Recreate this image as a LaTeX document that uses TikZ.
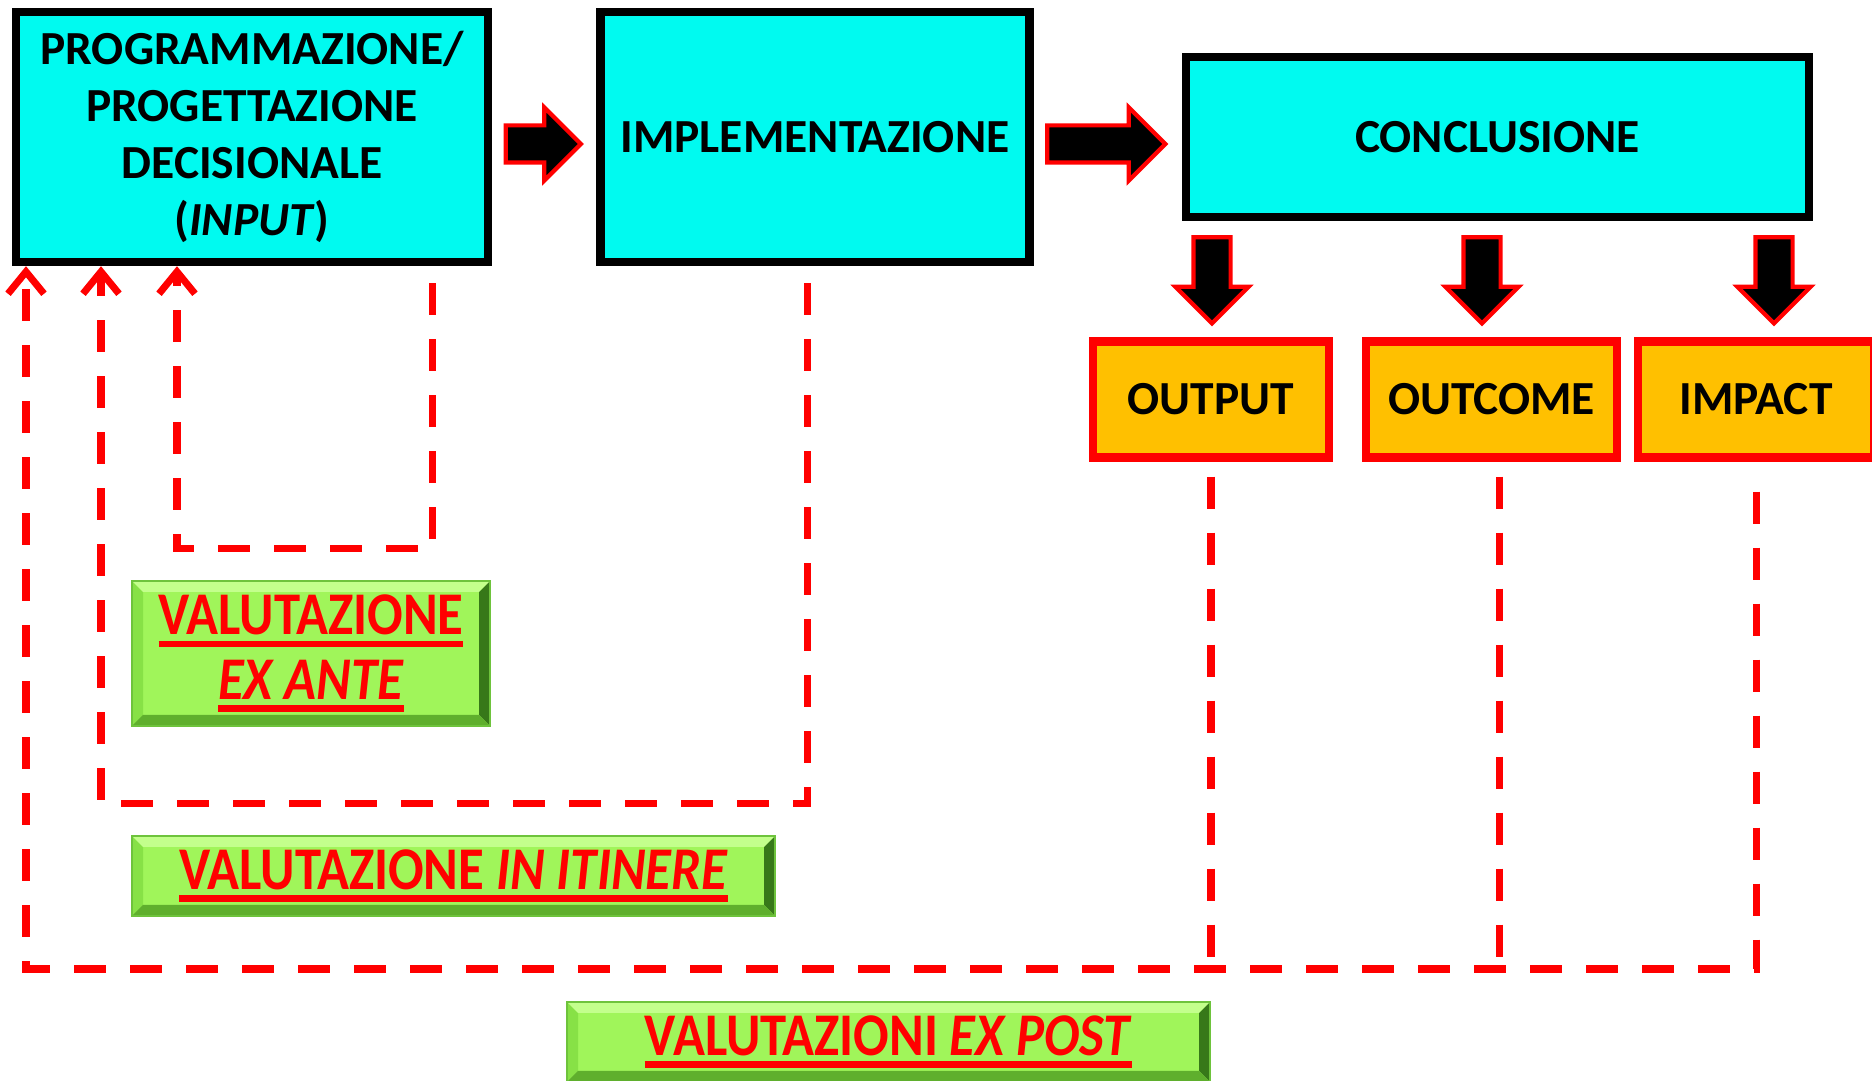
\documentclass[tikz,border=0pt]{standalone}
\usepackage{fontspec}
\setmainfont{Carlito}
\usepackage{graphicx}
\usetikzlibrary{
        arrows.meta,
        positioning,
        shapes.arrows
    }
\definecolor{phasecyan}{RGB}{0,250,240}
\definecolor{resultorange}{RGB}{255,192,0}
\definecolor{bevelmid}{RGB}{160,245,90}
\definecolor{bevellight}{RGB}{195,255,140}
\definecolor{beveldark}{RGB}{95,175,45}
\definecolor{bevelshadow}{RGB}{55,120,25}
\definecolor{bevelside}{RGB}{135,225,70}
\definecolor{beveledge}{RGB}{110,195,60}
\newcommand{\thickul}[1]{\setbox0=\hbox{#1}\rlap{\rule[-3pt]{\wd0}{1.6pt}}\box0}
\newcommand{\evaltext}[1]{\scalebox{1}[1.15]{\thickul{#1}}}
\tikzset{
  phase/.style={draw=black,line width=2.4pt,fill=phasecyan,align=center,
    minimum height=2.50cm,font=\fontsize{13.5}{16.2}\selectfont\bfseries},
  result/.style={draw=red,line width=2.3pt,fill=resultorange,minimum width=2.36cm,
    minimum height=1.16cm,font=\fontsize{13.5}{16.2}\selectfont\bfseries},
  flowarrow/.style={single arrow,draw=red,fill=black,line width=1.2pt,inner sep=0.165cm,
    single arrow head extend=0.18cm},
  evalline/.style={draw=red,line width=2pt,dash pattern=on 0.32cm off 0.24cm,
    -{Straight Barb[length=0.22cm,width=0.36cm]}},
  judgebox/.style={draw=beveledge,line width=0.6pt,fill=bevelmid,inner sep=0pt,
    text=red,align=center,font=\fontsize{15}{18.4}\selectfont\bfseries,
    path picture={
      \fill[bevelside] (path picture bounding box.north west) -- ([shift={(0.11,-0.11)}]path picture bounding box.north west)
        -- ([shift={(0.11,0.11)}]path picture bounding box.south west) -- (path picture bounding box.south west) -- cycle;
      \fill[bevelshadow] (path picture bounding box.north east) -- ([shift={(-0.11,-0.11)}]path picture bounding box.north east)
        -- ([shift={(-0.11,0.11)}]path picture bounding box.south east) -- (path picture bounding box.south east) -- cycle;
      \fill[bevellight] (path picture bounding box.north west) -- (path picture bounding box.north east)
        -- ([shift={(-0.11,-0.11)}]path picture bounding box.north east) -- ([shift={(0.11,-0.11)}]path picture bounding box.north west) -- cycle;
      \fill[beveldark] (path picture bounding box.south west) -- (path picture bounding box.south east)
        -- ([shift={(-0.11,0.11)}]path picture bounding box.south east) -- ([shift={(0.11,0.11)}]path picture bounding box.south west) -- cycle;
    }}
}
\begin{document}
\begin{tikzpicture}
  \useasboundingbox (0,0) rectangle (18.72,-10.81);
  % phases
  \node[phase,minimum width=4.72cm] (prog) at (2.52,-1.37) {PROGRAMMAZIONE/\\PROGETTAZIONE\\DECISIONALE\\(\textit{INPUT})};
  \node[phase,minimum width=4.29cm] (impl) [right=1.04cm of prog] {IMPLEMENTAZIONE};
  \node[phase,minimum width=6.23cm,minimum height=1.60cm] (conc) [right=1.48cm of impl] {CONCLUSIONE};
  \node[result] (output) at (12.11,-3.995) {OUTPUT};
  \node[result,minimum width=2.51cm] (outcome) [right=0.29cm of output] {OUTCOME};
  \node[result] (impact) [right=0.13cm of outcome] {IMPACT};
  % block arrows
  \node[flowarrow,minimum height=0.75cm] (toimpl) at (5.34,-1.44) {};
  \node[flowarrow,minimum height=1.18cm] (toconc) at (10.97,-1.44) {};
  \node[flowarrow,minimum height=0.86cm,rotate=-90] (tooutput) at (12.12,-2.71) {};
  \node[flowarrow,minimum height=0.86cm,rotate=-90] (tooutcome) at (14.82,-2.71) {};
  \node[flowarrow,minimum height=0.86cm,rotate=-90] (toimpact) at (17.74,-2.71) {};
  % evaluations
  \node[judgebox,minimum width=3.58cm,minimum height=1.45cm] (exante) at (3.11,-6.535)
    {\evaltext{VALUTAZIONE}\\\evaltext{\textit{EX ANTE}}};
  \node[judgebox,minimum width=6.43cm,minimum height=0.80cm] (itinere) at (4.535,-8.76)
    {\evaltext{VALUTAZIONE \textit{IN ITINERE}}};
  \node[judgebox,minimum width=6.43cm,minimum height=0.80cm] (expost) at (8.885,-10.42)
    {\evaltext{VALUTAZIONI \textit{EX POST}}};
  % feedback lines
  \coordinate (ante) at (1.77,-5.49);
  \coordinate (itin) at (1.01,-8.04);
  \coordinate (post) at (0.26,-9.69);
  \draw[evalline] ([shift={(-0.60,-0.17)}]prog.south east) |- (ante) -- (ante |- prog.south);
  \draw[evalline] ([shift={(-0.07,-0.17)}]impl.south) |- (itin) -- (itin |- prog.south);
  \draw[evalline] ([yshift=-0.30cm]impact.south) |- (post) -- (post |- prog.south);
  \draw[evalline,-] ([yshift=-0.15cm]output.south) -- (output.south |- post);
  \draw[evalline,-] ([shift={(0.08,-0.15)}]outcome.south) -- ([xshift=0.08cm]outcome.south |- post);
\end{tikzpicture}
\end{document}
